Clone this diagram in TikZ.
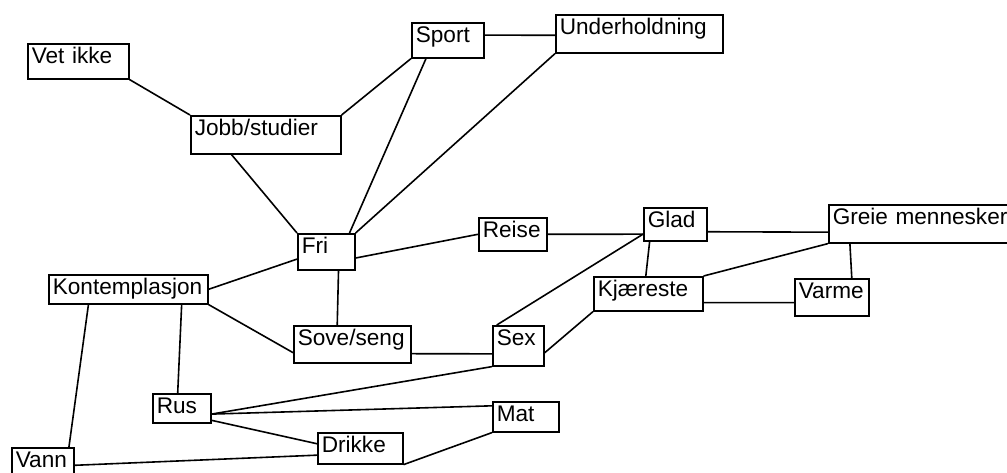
\documentclass[tikz,border=0pt]{standalone}
\usepackage{fontspec}
\setmainfont{Liberation Sans}

\begin{document}
\begin{tikzpicture}[x=1pt, y=-1pt, box/.style={rectangle, draw, ultra thick, anchor=north west, inner xsep=4pt, inner ysep=2pt, text height=18pt, align=left}, font=\fontsize{22.6}{26}\selectfont]
        \useasboundingbox (0,0) rectangle (1007,473);
        % \draw[help lines, step=50] (0,0) grid (1007,473);
        \node[box, text width=93pt, text depth=13pt] (vetikke) at (27,43) {Vet ikke};
        \node[box, text width=64pt, text depth=13pt] (sport) at (411,22) {Sport};
        \node[box, text width=159pt, text depth=16pt] (underholdning) at (555,14) {Underholdning};
        \node[box, text width=142pt, text depth=16pt] (jobb) at (190,115) {Jobb/studier};
        \node[box, text width=49pt, text depth=14pt] (fri) at (297,233) {Fri};
        \node[box, text width=60pt, text depth=11pt] (reise) at (478,217) {Reise};
        \node[box, text width=55pt, text depth=11pt] (glad) at (643,207) {Glad};
        \node[box, text width=182pt, text depth=16pt] (greie) at (828,204) {Greie mennesker};
        \node[box, text width=101pt, text depth=12pt] (kjaereste) at (593,276) {Kjæreste};
        \node[box, text width=66pt, text depth=15pt] (varme) at (794,278) {Varme};
        \node[box, text width=151pt, text depth=7pt] (kontemplasjon) at (48,274) {Kontemplasjon};
        \node[box, text width=109pt, text depth=15pt] (sove) at (293,325) {Sove/seng};
        \node[box, text width=43pt, text depth=18pt] (sex) at (492,325) {Sex};
        \node[box, text width=50pt, text depth=7pt] (rus) at (152,393) {Rus};
        \node[box, text width=58pt, text depth=8pt] (mat) at (492,401) {Mat};
        \node[box, text width=77pt, text depth=9pt] (drikke) at (317,432) {Drikke};
        \node[box, text width=54pt, text depth=13pt] (vann) at (11,447) {Vann};
        
        \path (vetikke.south east) edge [ultra thick] (jobb.north west);
        \path (jobb.north east) edge [ultra thick] (sport.south west);
        \path (jobb.210) edge [ultra thick] (fri.north west);
        \path (sport.220) edge [ultra thick] (fri.39);
        \path (sport.8) edge [ultra thick] (underholdning.181);
        \path (underholdning.south west) edge [ultra thick] (fri.north east);
        \path (fri.-12) edge [ultra thick] (reise.west);
        \path (fri.194) edge [ultra thick] (kontemplasjon.east);
        \path (fri.-57) edge [ultra thick] (sove.128);
        \path (reise.east) edge [ultra thick] (glad.197);
        \path (glad.-13) edge [ultra thick] (greie.185);
        \path (glad.214) edge [ultra thick] (kjaereste.98);
        \path (sex.136) edge [ultra thick] (glad.197);
        \path (greie.south west) edge [ultra thick] (kjaereste.north east);
        \path (greie.195) edge [ultra thick] (varme.44);
        \path (kjaereste.-9) edge [ultra thick] (varme.188);
        \path (kjaereste.south west) edge [ultra thick] (sex.-15);
        \path (kontemplasjon.south east) edge [ultra thick] (sove.188);
        \path (kontemplasjon.-16) edge [ultra thick] (rus.105);
        \path (kontemplasjon.201) edge [ultra thick] (vann.35);
        \path (sove.-9) edge [ultra thick] (sex.197);
        \path (sex.south west) edge [ultra thick] (rus.-11);
        \path (rus.-11) edge [ultra thick] (mat.162);
        \path (rus.-22) edge [ultra thick] (drikke.174);
        \path (drikke.south east) edge [ultra thick] (mat.south west);
        \path (vann.east) edge [ultra thick] (drikke.189);
    \end{tikzpicture}
\end{document}
